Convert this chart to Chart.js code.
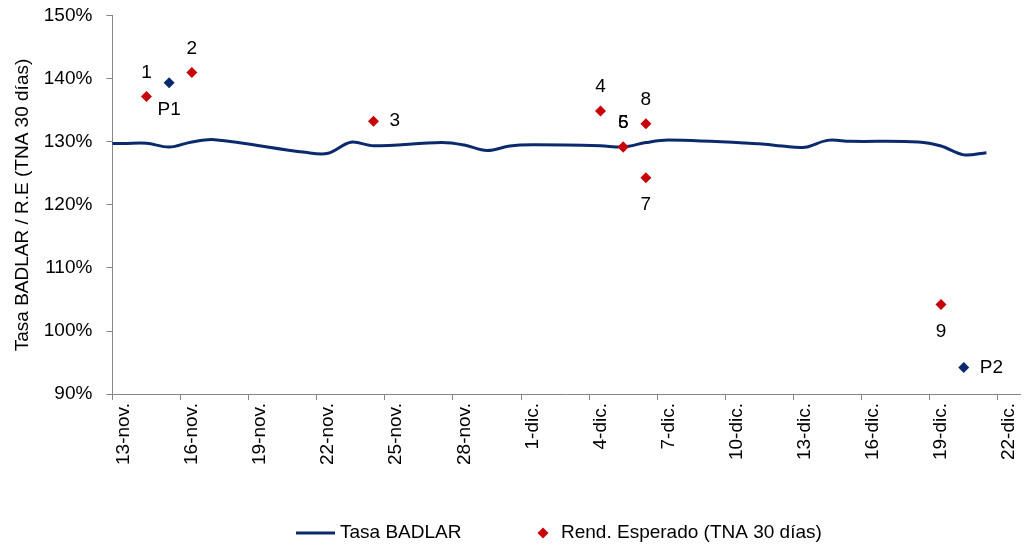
<!DOCTYPE html>
<html><head><meta charset="utf-8">
<script src="https://cdn.jsdelivr.net/npm/chart.js@4/dist/chart.umd.min.js"></script>
<style>html,body{margin:0;padding:0;background:#fff}#wrap{width:1035px;height:548px}</style>
</head><body><div id="wrap"><canvas id="c" width="1035" height="548"></canvas></div>
<script>
// ---------- data ----------
const dayLabels = ['10-nov.','11-nov.','12-nov.','13-nov.','14-nov.','15-nov.','16-nov.','17-nov.','18-nov.','19-nov.','20-nov.',
  '21-nov.','22-nov.','23-nov.','24-nov.','25-nov.','26-nov.','27-nov.','28-nov.','29-nov.','30-nov.',
  '1-dic.','2-dic.','3-dic.','4-dic.','5-dic.','6-dic.','7-dic.','8-dic.','9-dic.','10-dic.',
  '11-dic.','12-dic.','13-dic.','14-dic.','15-dic.','16-dic.','17-dic.','18-dic.','19-dic.','20-dic.','21-dic.','22-dic.'];
const axisFirst = '13-nov.';
const axisLast = '22-dic.';

const badlarDates = ['10-nov.','13-nov.','14-nov.','15-nov.','16-nov.','17-nov.','21-nov.','22-nov.','23-nov.','24-nov.',
  '27-nov.','28-nov.','29-nov.','30-nov.','1-dic.','4-dic.','5-dic.','6-dic.','7-dic.',
  '11-dic.','12-dic.','13-dic.','14-dic.','15-dic.','18-dic.','19-dic.','20-dic.','21-dic.'];
const badlarValues = [129.7,129.75,129.8,129.2,130.0,130.35,128.35,128.2,129.95,129.4,
  129.9,129.5,128.65,129.35,129.55,129.4,129.2,129.9,130.3,
  129.7,129.35,129.15,130.25,130.1,130.0,129.35,127.95,128.3];

const rendDates = ['14-nov.','16-nov.','24-nov.','4-dic.','5-dic.','5-dic.','6-dic.','6-dic.','19-dic.'];
const rendValues = [137.2,141.0,133.3,134.9,129.2,129.2,124.3,132.9,104.2];
const rendLabels = ['1','2','3','4','5','6','7','8','9'];

const pDates = ['15-nov.','20-dic.'];
const pValues = [139.4,94.2];
const pLabels = ['P1','P2'];

const yTicks = [90,100,110,120,130,140,150];
const seriesNames = ['Tasa BADLAR','Rend. Esperado (TNA 30 días)','P'];
const yTitle = 'Tasa BADLAR / R.E (TNA 30 días)';

// ---------- styles ----------
const rendPlacement = ['above','above','right','above','above','above','below','above','below'];
const pPlacement = ['below','right'];
const NAVY = '#0b2a6e';
const RED = '#c8000a';
const FONT = '"Liberation Sans", Arial, sans-serif';

const zip = (xs, ys) => xs.map((x, i) => ({x: x, y: ys[i]}));

const labelPlugin = {
  id: 'pointLabels',
  afterDatasetsDraw(chart) {
    const ctx = chart.ctx;
    ctx.save();
    ctx.font = '19px ' + FONT;
    ctx.fillStyle = '#000';
    ctx.textBaseline = 'middle';
    chart.data.datasets.forEach((ds, i) => {
      if (!ds.pointText) return;
      const meta = chart.getDatasetMeta(i);
      meta.data.forEach((el, j) => {
        const pos = ds.pointPlace[j];
        let x = el.x, y = el.y;
        ctx.textAlign = 'center';
        if (pos === 'above') y -= 24;
        else if (pos === 'below') y += 27;
        else { x += 16; ctx.textAlign = 'left'; }
        ctx.fillText(ds.pointText[j], x, y);
      });
    });
    ctx.restore();
  }
};

const legendPlugin = {
  id: 'bottomLegend',
  afterDraw(chart) {
    const ctx = chart.ctx;
    const ds = chart.data.datasets;
    ctx.save();
    ctx.font = '19px ' + FONT;
    ctx.fillStyle = '#000';
    ctx.textBaseline = 'middle';
    ctx.textAlign = 'left';
    const y = 533;
    let x = 296;
    ctx.strokeStyle = ds[0].borderColor;
    ctx.lineWidth = 3;
    ctx.beginPath(); ctx.moveTo(x, y); ctx.lineTo(x + 39, y); ctx.stroke();
    ctx.fillText(ds[0].label, x + 44, y);
    x = 543;
    ctx.fillStyle = ds[1].pointBackgroundColor;
    ctx.beginPath();
    ctx.moveTo(x, y - 5.5); ctx.lineTo(x + 5.5, y); ctx.lineTo(x, y + 5.5); ctx.lineTo(x - 5.5, y); ctx.closePath();
    ctx.fill();
    ctx.fillStyle = '#000';
    ctx.fillText(ds[1].label, x + 18, y);
    ctx.restore();
  }
};

new Chart(document.getElementById('c'), {
  type: 'line',
  data: {
    labels: dayLabels,
    datasets: [
      {
        label: seriesNames[0],
        data: zip(badlarDates, badlarValues),
        borderColor: NAVY,
        borderWidth: 3,
        pointRadius: 0,
        tension: 0.35,
        fill: false,
        order: 3
      },
      {
        label: seriesNames[1],
        data: zip(rendDates, rendValues),
        showLine: false,
        pointStyle: 'rectRot',
        pointRadius: 5.5,
        pointBorderWidth: 0,
        pointBackgroundColor: RED,
        pointBorderColor: RED,
        pointText: rendLabels,
        pointPlace: rendPlacement,
        order: 1
      },
      {
        label: seriesNames[2],
        data: zip(pDates, pValues),
        showLine: false,
        pointStyle: 'rectRot',
        pointRadius: 5.5,
        pointBorderWidth: 0,
        pointBackgroundColor: NAVY,
        pointBorderColor: NAVY,
        pointText: pLabels,
        pointPlace: pPlacement,
        order: 2
      }
    ]
  },
  options: {
    responsive: false,
    animation: false,
    devicePixelRatio: 1,
    layout: { padding: { left: 11, right: 0, top: 0, bottom: 80 } },
    plugins: { legend: { display: false }, tooltip: { enabled: false } },
    scales: {
      x: {
        type: 'category',
        min: axisFirst,
        max: axisLast,
        offset: true,
        grid: {
          offset: true,
          drawOnChartArea: false,
          tickLength: 6,
          tickColor: (c) => (c.index !== undefined && c.index % 3 === 0) ? '#868686' : 'rgba(0,0,0,0)'
        },
        border: { color: '#868686', width: 1 },
        ticks: {
          autoSkip: false,
          maxRotation: 90,
          minRotation: 90,
          padding: 3,
          color: '#000',
          font: { family: FONT, size: 19 },
          callback: function (v, i) { return i % 3 === 0 ? this.getLabelForValue(v) : ''; }
        }
      },
      y: {
        type: 'linear',
        min: 90,
        max: 150,
        afterBuildTicks: (s) => { s.ticks = yTicks.map(v => ({ value: v })); },
        grid: { drawOnChartArea: false, tickLength: 6, tickColor: '#868686' },
        border: { color: '#868686', width: 1 },
        ticks: {
          padding: 14,
          color: '#000',
          font: { family: FONT, size: 19, lineHeight: 0.2 },
          callback: (v) => v + '%'
        },
        title: {
          display: true,
          text: yTitle,
          color: '#000',
          font: { family: FONT, size: 19 },
          padding: { top: 0, bottom: -4 }
        }
      }
    }
  },
  plugins: [labelPlugin, legendPlugin]
});
</script>
</body></html>
